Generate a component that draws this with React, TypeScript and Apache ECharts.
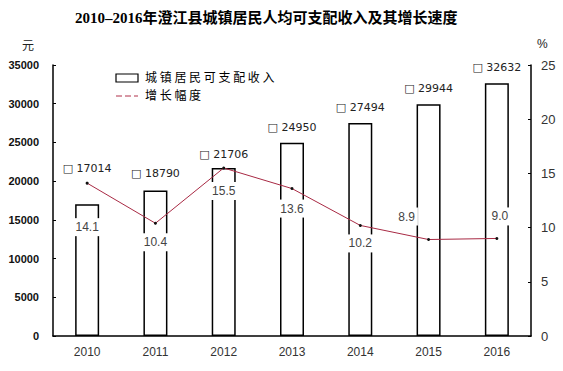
import React, { useEffect, useRef } from "react";
import * as echarts from "echarts";

const years = ["2010", "2011", "2012", "2013", "2014", "2015", "2016"];
const income = [17014, 18790, 21706, 24950, 27494, 29944, 32632];
const growth = [14.1, 10.4, 15.5, 13.6, 10.2, 8.9, 9.0];
const incomeLabelDist = [30, 12, 8, 10, 10, 10, 10];
const growthLabelOffset: [number, number][] = [
  [0, 44], [0, 19], [0, 23], [0, 20], [0, 18], [-22, -23], [3, -22],
];

export default function App() {
  const ref = useRef<HTMLDivElement>(null);
  useEffect(() => {
    const chart = echarts.init(ref.current!, null, { renderer: "svg" });
    const axisFont = "Liberation Sans, DejaVu Sans, sans-serif";
    chart.setOption({
      animation: false,
      backgroundColor: "#fff",
      title: {
        text: "2010–2016年澄江县城镇居民人均可支配收入及其增长速度",
        left: 70,
        top: 5,
        textStyle: {
          fontFamily: "Liberation Serif, Noto Sans CJK SC, serif",
          fontWeight: "bold",
          fontSize: 15,
          color: "#000",
        },
      },
      graphic: [
        { type: "text", left: 22, top: 38, style: { text: "元", fontSize: 12, fill: "#222", fontFamily: "Noto Sans CJK SC" } },
        { type: "text", left: 537, top: 38, style: { text: "%", fontSize: 12, fill: "#222", fontFamily: axisFont } },
        { type: "rect", shape: { x: 116, y: 74, width: 22, height: 8 }, style: { fill: "#fff", stroke: "#000", lineWidth: 1.2 } },
        { type: "text", left: 145, top: 70, style: { text: "城 镇 居 民 可 支 配 收 入", fontSize: 12, fill: "#000", fontFamily: "Noto Sans CJK SC" } },
        { type: "line", shape: { x1: 116, y1: 96, x2: 138, y2: 96 }, style: { stroke: "#b0304a", lineWidth: 1, lineDash: [6, 3] } },
        { type: "text", left: 145, top: 88, style: { text: "增 长 幅 度", fontSize: 12, fill: "#000", fontFamily: "Noto Sans CJK SC" } },
      ],
      grid: { left: 53, right: 32, top: 65, bottom: 35 },
      xAxis: {
        type: "category",
        data: years,
        axisLine: { lineStyle: { color: "#000", width: 1.5 } },
        axisTick: { inside: true, length: 4, lineStyle: { color: "#000" } },
        axisLabel: { color: "#333", fontSize: 12, fontFamily: axisFont, margin: 10 },
      },
      yAxis: [
        {
          type: "value",
          min: 0,
          max: 35000,
          interval: 5000,
          splitLine: { show: false },
          axisLine: { show: true, lineStyle: { color: "#000", width: 1.5 } },
          axisTick: { show: true, inside: true, length: 3, lineStyle: { color: "#000" } },
          axisLabel: {
            color: "#111",
            fontSize: 11,
            fontWeight: "bold",
            fontFamily: axisFont,
            margin: 14,
            formatter: (v: number) => String(v),
          },
        },
        {
          type: "value",
          min: 0,
          max: 25,
          interval: 5,
          position: "right",
          splitLine: { show: false },
          axisLine: { show: true, lineStyle: { color: "#000", width: 1.5 } },
          axisTick: { show: true, inside: true, length: 3, lineStyle: { color: "#000" } },
          axisLabel: { color: "#333", fontSize: 13, fontFamily: axisFont, margin: 10 },
        },
      ],
      series: [
        {
          name: "城镇居民可支配收入",
          type: "bar",
          barWidth: 24,
          itemStyle: { color: "#fff", borderColor: "#000", borderWidth: 1.5 },
          data: income.map((v, i) => ({
            value: v,
            label: {
              show: true,
              position: "top",
              distance: incomeLabelDist[i],
              formatter: "□ {c}",
              color: "#222",
              fontSize: 11,
              fontFamily: "DejaVu Sans, sans-serif",
            },
          })),
        },
        {
          name: "增长幅度",
          type: "line",
          yAxisIndex: 1,
          symbol: "circle",
          symbolSize: 3,
          lineStyle: { color: "#a82a44", width: 1 },
          itemStyle: { color: "#111" },
          data: growth.map((v, i) => ({
            value: v,
            label: {
              show: true,
              position: "inside",
              offset: growthLabelOffset[i],
              formatter: (p: any) => Number(p.value).toFixed(1),
              color: "#444",
              fontSize: 12,
              fontFamily: axisFont,
              backgroundColor: "#fff",
              padding: [3, 3],
            },
          })),
          z: 5,
        },
      ],
    });
    return () => chart.dispose();
  }, []);
  return <div ref={ref} style={{ width: 563, height: 371, position: "absolute", left: 0, top: 0 }} />;
}
